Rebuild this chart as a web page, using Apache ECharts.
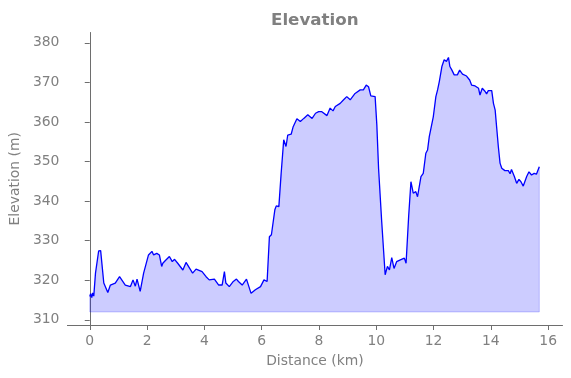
<!DOCTYPE html>
<html>
<head>
<meta charset="utf-8">
<script src="https://cdn.jsdelivr.net/npm/echarts@6/dist/echarts.min.js"></script>
<style>
  html, body { margin: 0; padding: 0; background: #fff; }
  #main { width: 571px; height: 378px; }
</style>
</head>
<body>
<div id="main"></div>
<script>
// distance along the track (km) and elevation (m)
var distKm = [
    0, 0.03, 0.07, 0.10, 0.14, 0.2, 0.31, 0.38, 0.49, 0.63,
    0.72, 0.89, 1.04, 1.24, 1.42, 1.51, 1.59, 1.65, 1.76, 1.88,
    1.94, 2.05, 2.17, 2.23, 2.34, 2.43, 2.51, 2.55, 2.64, 2.78,
    2.88, 2.96, 3.07, 3.25, 3.36, 3.59, 3.71, 3.92, 4.06, 4.17,
    4.35, 4.50, 4.62, 4.70, 4.75, 4.87, 5.01, 5.12, 5.19, 5.32,
    5.47, 5.63, 5.78, 5.96, 6.08, 6.19, 6.27, 6.34, 6.46, 6.51,
    6.60, 6.68, 6.77, 6.85, 6.91, 7.03, 7.10, 7.23, 7.35, 7.47,
    7.61, 7.76, 7.88, 7.99, 8.10, 8.28, 8.39, 8.49, 8.57, 8.74,
    8.86, 8.97, 9.09, 9.26, 9.44, 9.55, 9.65, 9.73, 9.81, 9.96,
    10.02, 10.08, 10.19, 10.31, 10.39, 10.46, 10.54, 10.62, 10.71, 10.86,
    10.98, 11.04, 11.13, 11.21, 11.29, 11.38, 11.44, 11.56, 11.64, 11.73,
    11.79, 11.85, 11.91, 11.99, 12.08, 12.14, 12.20, 12.29, 12.37, 12.45,
    12.52, 12.57, 12.64, 12.72, 12.83, 12.91, 13.01, 13.15, 13.26, 13.33,
    13.45, 13.57, 13.62, 13.70, 13.80, 13.85, 13.91, 13.97, 14.03, 14.09,
    14.15, 14.20, 14.26, 14.32, 14.38, 14.49, 14.61, 14.67, 14.72, 14.82,
    14.90, 14.98, 15.05, 15.13, 15.25, 15.33, 15.42, 15.51, 15.59, 15.65,
    15.69
]
var elevM = [
    315.9, 316.6, 315.6, 316.8, 316.0, 321.8, 327.4, 327.5, 319.3, 316.9,
    318.8, 319.3, 320.9, 318.8, 318.4, 320.1, 318.5, 320.3, 317.2, 321.8,
    321.8, 326.4, 327.3, 326.4, 326.8, 326.4, 323.5, 324.3, 325.0, 326.0,
    324.7, 325.3, 324.3, 322.6, 324.5, 321.8, 322.8, 322.2, 320.9, 320.1,
    320.3, 318.8, 318.8, 322.2, 319.3, 318.4, 319.7, 320.3, 319.7, 318.8,
    320.3, 316.7, 317.6, 318.4, 320.1, 319.7, 331.0, 331.5, 337.8, 338.8,
    338.6, 347.0, 355.5, 353.8, 356.7, 356.9, 358.8, 360.8, 360.1, 360.9,
    361.8, 360.9, 362.2, 362.6, 362.6, 361.6, 363.5, 362.8, 363.9, 364.7,
    365.6, 366.4, 365.6, 367.2, 368.1, 368.1, 369.3, 368.9, 366.6, 366.4,
    359.2, 348.3, 334.8, 321.4, 323.5, 322.6, 325.7, 323.0, 324.7, 325.2,
    325.6, 324.3, 336.1, 344.9, 342.0, 342.4, 341.1, 346.2, 347.0, 352.1,
    352.9, 356.3, 356.3, 361.3, 366.4, 368.1, 370.2, 374.0, 375.7, 375.3,
    376.3, 374.0, 373.1, 371.9, 371.9, 373.1, 372.1, 371.6, 370.6, 369.3,
    369.1, 368.5, 366.8, 368.5, 367.7, 367.1, 367.9, 367.4, 367.9, 364.7,
    363.0, 358.8, 353.8, 349.6, 348.3, 347.7, 347.7, 346.9, 348.0, 346.2,
    344.5, 345.5, 344.9, 343.8, 346.2, 347.4, 346.6, 347.0, 346.8, 346.6,
    348.7
]
var baseElev = 312 // fill goes down to here
var xTicks = [0, 2, 4, 6, 8, 10, 12, 14, 16]
var yTicks = [310, 320, 330, 340, 350, 360, 370, 380]

var grey = '#808080'
var fontFam = 'DejaVu Sans'

var profile = distKm.map(function (d, i) {
    return [d, elevM[i]]
})

// faint outline of the filled area (bottom + both ends)
var last = distKm.length - 1
var outline = [
    [distKm[0], elevM[0]],
    [distKm[0], baseElev],
    [distKm[last], baseElev],
    [distKm[last], elevM[last]]
]

function axisCommon() {
    return {
        axisLine: { show: true, lineStyle: { color: '#6e6e6e', width: 1 } },
        axisTick: { show: true, length: 5, lineStyle: { color: '#6e6e6e', width: 1 } },
        splitLine: { show: false },
        nameTextStyle: { color: grey, fontSize: 13.9, fontFamily: fontFam }
    }
}

var xAxis = axisCommon()
xAxis.type = 'value'
xAxis.min = -0.78
xAxis.max = 16.5
xAxis.name = 'Distance (km)'
xAxis.nameLocation = 'middle'
xAxis.nameGap = 29
xAxis.axisTick.customValues = xTicks
xAxis.axisLabel = {
    customValues: xTicks, color: grey, fontSize: 13.9, fontFamily: fontFam, margin: 9
}

var yAxis = axisCommon()
yAxis.type = 'value'
yAxis.min = 308.7
yAxis.max = 382.6
yAxis.name = 'Elevation (m)'
yAxis.nameLocation = 'middle'
yAxis.nameGap = 43
yAxis.axisTick.customValues = yTicks
yAxis.axisLabel = {
    customValues: yTicks, color: grey, fontSize: 13.9, fontFamily: fontFam, margin: 8
}

var myChart = echarts.init(document.getElementById('main'))
var option = {
    animation: false,
    backgroundColor: '#fff',
    title: {
        text: 'Elevation',
        left: 266, // centred over the plot area, not the page
        top: 7,
        textStyle: { color: grey, fontSize: 16.7, fontWeight: 'bold', fontFamily: fontFam }
    },
    grid: { left: 66.5, right: 8.5, top: 32.5, bottom: 53, containLabel: false },
    xAxis: xAxis,
    yAxis: yAxis,
    series: [
        {
            type: 'line',
            data: outline,
            showSymbol: false,
            silent: true,
            lineStyle: { color: 'rgba(0,0,255,0.2)', width: 1 },
            z: 1
        },
        {
            type: 'line',
            data: profile,
            showSymbol: false,
            lineStyle: { color: '#0000ff', width: 1.3 },
            areaStyle: { color: 'rgba(0,0,255,0.2)', opacity: 1, origin: baseElev },
            z: 2
        }
    ]
}
myChart.setOption(option)
</script>
</body>
</html>
